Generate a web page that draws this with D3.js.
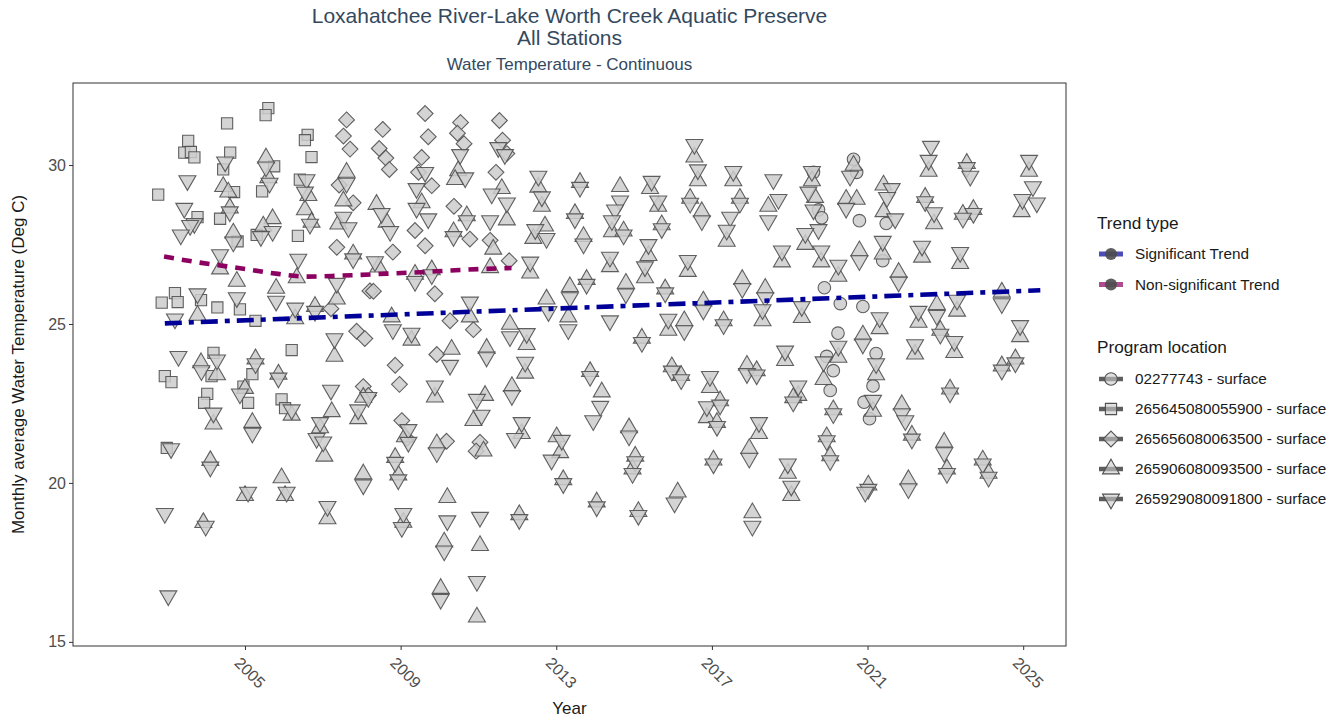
<!DOCTYPE html>
<html>
<head>
<meta charset="utf-8">
<script src="https://cdn.jsdelivr.net/npm/d3@7"></script>
<style>
  html, body { margin: 0; padding: 0; background: #ffffff; }
  svg { display: block; font-family: "Liberation Sans", Arial, sans-serif; }
</style>
</head>
<body>
<svg id="chart" width="1340" height="721"></svg>
<script>
// ---------------- DATA ----------------
const titleLines = ["Loxahatchee River-Lake Worth Creek Aquatic Preserve", "All Stations"];
const subtitle = "Water Temperature - Continuous";
const xTitle = "Year";
const yTitle = "Monthly average Water Temperature (Deg C)";
const xTicks = [2005, 2009, 2013, 2017, 2021, 2025];
const yTicks = [15, 20, 25, 30];
const xDomain = [2000.58, 2026.1];
const yDomain = [14.87, 32.58];

const trendTypes = ["Significant Trend", "Non-significant Trend"];
const stationNames = ["02277743 - surface", "265645080055900 - surface", "265656080063500 - surface",
                      "265906080093500 - surface", "265929080091800 - surface"];

// trend lines [year, value]
const sigTrend = [[2002.94, 25.02], [2025.44, 26.06]];
const nonSigTrend = [[2002.92, 27.12], [2003.84, 26.93], [2004.79, 26.77], [2005.64, 26.61], [2006.59, 26.49],
  [2007.44, 26.52], [2008.8, 26.59], [2009.68, 26.64], [2010.53, 26.70], [2011.85, 26.76]];

// station 02277743 (circles)
const st02277743 = [[2019.61,29.77],[2019.74,28.59],[2019.82,28.34],[2019.89,26.14],[2020.3,25.64],[2020.24,24.71],
  [2019.95,23.98],[2020.12,23.53],[2020.04,22.91],[2020.64,30.18],[2020.72,29.77],[2020.79,28.25],[2020.88,25.55],
  [2021.22,24.07],[2021.14,23.05],[2021.05,22.02],[2021.48,28.16],[2021.39,26.99],[2020.91,22.54]];

// station 265645080055900 (squares)
const st265645080055900 = [[2002.77,29.07],[2003.2,25.97],[2002.86,25.67],[2003.27,25.69],[2003.54,30.76],[2003.44,30.39],
  [2003.61,30.41],[2003.7,30.24],[2003.78,28.36],[2002.94,23.36],[2003.11,23.17],[2002.99,21.1],[2004.54,31.31],
  [2004.62,30.39],[2004.44,29.86],[2004.72,29.15],[2004.36,28.31],[2004.81,27.6],[2003.87,25.75],[2004.29,25.52],
  [2004.87,25.46],[2005.27,25.1],[2004.19,24.09],[2004.14,23.36],[2004.03,22.8],[2003.95,22.52],[2005.19,23.42],
  [2004.96,23.03],[2005.08,22.52],[2005.6,31.79],[2005.53,31.57],[2005.75,29.96],[2005.44,29.17],[2005.3,27.8],
  [2006.36,27.77],[2006.61,30.95],[2006.54,30.78],[2006.71,30.25],[2006.41,29.54],[2006.2,24.18],[2005.94,22.63],
  [2006.03,22.35]];

// station 265656080063500 (diamonds)
const st265656080063500 = [[2007.61,31.42],[2007.53,30.91],[2007.7,30.5],[2007.42,29.37],[2007.78,28.81],[2007.36,27.41],
  [2008.21,26.04],[2007.21,25.48],[2007.87,24.77],[2008.08,24.54],[2008.04,23.03],[2008.17,22.75],
  [2008.54,31.12],[2008.45,30.52],[2008.62,30.22],[2008.71,29.86],[2009.63,31.62],[2009.71,30.89],[2009.54,30.24],
  [2009.46,29.77],[2009.8,29.35],[2010.54,31.34],[2010.46,31.0],[2010.63,30.67],[2011.54,31.4],[2011.62,30.78],
  [2011.73,30.36],[2011.45,29.77],[2010.37,28.7],[2010.78,27.67],[2009.37,27.94],[2009.63,27.46],[2008.8,27.26],
  [2011.3,27.63],[2011.79,26.99],[2008.3,26.03],[2009.88,25.95],[2010.27,25.1],[2010.87,24.82],[2009.93,24.04],
  [2008.86,23.7],[2008.97,23.1],[2009.03,21.96],[2009.16,21.4],[2010.18,21.31],[2011.04,21.28],[2010.94,21.0]];

// station 265906080093500 (up triangles)
const st265906080093500 = [[2003.78,25.27],[2003.87,23.78],[2004.28,23.4],[2004.19,21.85],[2004.11,20.7],[2003.93,18.75],
  [2004.44,29.32],[2004.57,29.15],[2004.61,28.65],[2004.7,27.86],[2004.36,26.73],[2004.79,26.34],
  [2005.27,23.9],[2005.0,22.97],[2005.19,21.9],[2005.0,19.6],
  [2005.54,30.22],[2005.6,29.6],[2005.71,28.31],[2005.47,28.08],[2005.8,26.12],[2005.86,23.42],[2005.94,20.16],[2006.03,19.6],[2006.2,22.13],
  [2006.63,29.04],[2006.54,28.59],[2006.71,28.2],[2006.33,26.45],[2006.29,25.16],[2006.8,25.55],
  [2007.3,23.98],[2007.23,22.24],[2006.93,21.73],[2007.04,20.84],[2007.12,18.87],
  [2007.61,29.77],[2007.53,28.87],[2007.4,28.14],[2007.78,27.2],[2007.36,25.78],
  [2008.04,22.69],[2007.91,22.02],[2008.04,20.28],
  [2008.38,28.76],[2008.64,28.2],[2008.43,26.79],[2009.54,28.81],[2009.37,26.56],[2009.8,26.7],
  [2010.48,29.82],[2010.4,29.54],[2010.7,28.4],[2010.36,27.9],
  [2011.6,29.26],[2011.73,28.27],[2011.38,27.35],[2011.3,26.77],
  [2010.78,25.22],[2008.77,25.22],[2009.28,24.49],[2010.31,24.2],[2011.21,24.23],[2011.81,24.99],
  [2012.24,24.35],[2012.33,26.6],[2012.54,29.3],[2012.63,28.7],[2012.71,28.08],[2012.41,27.69],
  [2012.2,23.45],[2012.75,25.78],[2013.35,26.17],[2013.31,25.22],[2013.61,29.45],[2013.48,28.47],[2013.7,27.75],[2013.78,26.4],
  [2009.88,22.7],[2011.17,22.75],[2010.87,21.96],[2009.11,21.45],[2009.93,21.23],[2011.13,21.0],
  [2011.86,23.03],[2012.11,21.55],[2013.01,21.45],[2013.1,20.95],[2013.18,20.1],
  [2013.87,23.5],[2014.17,22.86],[2014.04,19.4],
  [2008.86,20.8],[2008.94,20.25],[2009.07,18.76],
  [2010.2,19.54],[2010.12,18.14],[2010.03,16.68],[2011.04,18.03],[2010.96,15.78],[2012.05,19.0],
  [2014.64,29.32],[2014.43,27.9],[2014.73,27.92],[2014.38,26.8],[2014.79,26.28],
  [2015.41,29.26],[2015.62,28.7],[2015.71,28.12],[2015.37,27.15],[2015.28,26.45],[2015.8,26.1],[2015.88,24.8],[2016.29,25.1],[2015.2,24.55],
  [2016.55,30.25],[2016.64,29.5],[2016.44,28.95],[2016.74,28.53],[2016.38,26.65],[2016.78,25.72],[2017.3,25.1],
  [2017.55,29.5],[2017.72,28.95],[2017.38,27.6],[2017.78,26.4],[2018.37,26.12],[2018.3,25.1],
  [2018.45,28.7],[2018.8,26.95],[2019.31,25.2],
  [2019.57,29.5],[2019.65,28.98],[2019.4,27.5],[2019.81,26.95],[2020.25,26.5],
  [2020.25,23.95],[2019.87,23.25],[2018.88,23.85],[2020.12,22.3],[2019.95,21.45],[2020.04,20.85],
  [2015.97,23.65],[2016.21,23.38],[2016.95,23.0],[2017.9,23.7],[2018.15,23.53],[2019.22,22.75],[2019.09,22.68],
  [2016.87,22.05],[2017.21,22.58],[2017.13,21.9],[2018.21,21.55],[2014.87,21.73],[2015.03,20.84],[2014.96,20.44],
  [2017.04,20.72],[2017.96,21.08],[2018.95,20.3],[2019.04,19.6],[2016.12,19.71],[2015.11,19.1],[2018.04,19.06],
  [2020.64,29.99],[2020.45,28.92],[2020.72,28.92],[2020.79,27.3],[2020.88,24.65],[2021.31,24.85],[2021.22,23.4],[2021.14,22.25],
  [2021.41,29.37],[2021.41,28.53],[2021.39,27.2],[2021.8,26.62],
  [2022.57,29.8],[2022.48,28.98],[2022.71,28.15],[2022.4,27.1],[2022.31,25.05],[2022.22,24.05],
  [2022.78,25.61],[2022.87,24.8],[2023.23,24.1],[2023.3,25.4],[2024.45,26.0],[2023.55,30.05],
  [2023.72,28.6],[2023.45,28.45],[2023.38,26.9],[2025.15,29.8],[2024.96,28.53],
  [2024.92,24.6],[2024.8,23.9],[2024.45,23.68],[2023.12,22.95],[2021.88,22.46],[2022.14,21.5],
  [2022.97,21.28],[2023.04,20.44],[2023.96,20.72],[2024.11,20.3],[2021.02,19.93],[2022.05,20.1]];

// station 265929080091800 (down triangles)
const st265929080091800 = [[2003.2,25.16],[2003.29,23.98],[2003.1,21.08],[2002.94,19.04],[2003.03,16.45],
  [2003.52,29.51],[2003.44,28.64],[2003.7,28.16],[2003.59,28.1],[2003.35,27.8],
  [2003.78,25.95],[2003.88,23.53],[2004.28,23.87],[2004.19,22.2],[2004.11,20.5],[2003.99,18.64],
  [2004.49,30.1],[2004.61,28.53],[2004.7,27.58],[2004.36,27.18],[2004.79,25.83],
  [2005.27,23.75],[2004.87,22.8],[2005.19,21.57],[2005.08,19.71],
  [2005.54,29.94],[2005.63,29.43],[2005.71,27.91],[2005.41,27.75],[2005.8,25.72],[2005.86,23.3],[2006.07,19.71],[2006.2,22.3],
  [2006.58,29.54],[2006.54,29.15],[2006.67,28.14],[2006.37,27.04],[2006.29,25.5],[2006.8,25.4],
  [2007.3,24.54],[2007.21,22.92],[2006.93,21.9],[2006.84,21.4],[2007.01,21.29],[2007.12,19.26],
  [2007.61,29.43],[2007.53,28.36],[2007.66,28.03],[2007.78,27.05],[2007.36,26.28],
  [2008.17,22.69],[2007.91,22.3],[2008.04,19.94],
  [2008.51,28.48],[2008.73,27.91],[2008.34,26.96],
  [2009.41,29.26],[2009.71,28.31],[2009.41,28.64],[2009.63,29.77],[2009.37,26.34],[2009.8,26.55],
  [2010.53,30.33],[2010.66,29.6],[2010.7,28.25],[2010.36,27.75],
  [2011.51,30.55],[2011.68,30.33],[2011.34,29.09],[2011.73,28.81],[2011.3,28.25],
  [2010.78,25.69],[2008.8,24.82],[2009.28,24.71],[2010.27,23.7],[2011.21,23.96],[2011.81,24.6],
  [2012.24,24.7],[2012.33,26.95],[2012.54,29.65],[2012.63,29.0],[2012.46,27.97],[2012.75,27.69],
  [2012.2,23.8],[2012.8,25.39],[2013.35,25.83],[2013.31,24.82],[2013.61,29.3],[2013.48,28.31],[2013.7,27.52],[2013.78,26.25],
  [2009.88,23.05],[2010.96,22.63],[2011.08,22.13],[2009.2,21.68],[2009.2,21.28],[2009.93,20.95],
  [2011.86,22.75],[2012.11,21.9],[2011.94,21.4],[2013.14,21.34],[2012.88,20.72],[2013.18,19.98],
  [2013.87,23.35],[2014.13,22.41],[2013.95,21.96],[2014.04,19.25],
  [2008.86,20.65],[2008.94,20.1],[2009.07,19.04],[2009.03,18.6],
  [2010.2,18.81],[2010.12,17.86],[2010.03,16.34],[2011.04,18.92],[2010.96,16.9],[2012.05,18.85],
  [2014.64,28.87],[2014.51,28.59],[2014.43,28.25],[2014.73,27.8],[2014.38,27.1],[2014.79,25.95],[2014.38,25.1],
  [2015.45,29.49],[2015.62,28.87],[2015.71,28.0],[2015.37,27.5],[2015.28,26.8],[2015.8,25.98],[2015.88,25.15],[2016.29,24.79],[2015.2,24.42],
  [2016.55,30.65],[2016.64,29.85],[2016.44,28.8],[2016.74,28.25],[2016.38,27.0],[2016.78,25.44],[2017.3,24.98],
  [2017.55,29.8],[2017.72,28.8],[2017.47,28.36],[2017.38,27.95],[2017.78,26.12],[2018.37,25.83],[2018.3,25.45],
  [2018.58,29.54],[2018.71,28.92],[2018.45,28.25],[2018.8,27.3],[2019.31,25.55],
  [2019.57,29.8],[2019.48,29.15],[2019.61,28.59],[2019.74,27.97],[2019.4,27.85],[2019.81,27.3],[2020.25,26.85],
  [2020.25,24.3],[2019.87,23.81],[2018.88,24.15],[2020.12,22.18],[2019.95,21.33],[2020.04,20.7],
  [2015.97,23.52],[2016.21,23.25],[2016.95,23.35],[2017.9,23.44],[2018.15,23.4],[2019.22,23.05],[2019.09,22.55],
  [2016.87,22.4],[2017.21,22.45],[2017.13,21.78],[2018.21,21.9],[2014.87,21.48],[2015.03,20.67],[2014.96,20.3],
  [2017.04,20.6],[2017.96,20.78],[2018.95,20.6],[2019.04,19.9],[2016.04,19.37],[2015.11,18.98],[2018.04,18.64],
  [2020.55,29.65],[2020.45,28.64],[2020.79,26.99],[2020.88,24.37],[2021.31,25.2],[2021.22,23.75],[2021.14,22.6],
  [2021.62,29.26],[2021.5,28.98],[2021.71,28.31],[2021.39,27.6],[2021.8,26.32],
  [2022.63,30.59],[2022.57,30.15],[2022.48,28.85],[2022.71,28.5],[2022.4,27.45],[2022.31,25.4],[2022.22,24.35],
  [2022.78,25.27],[2022.87,24.68],[2023.23,24.45],[2023.3,25.75],[2024.45,25.64],[2023.55,29.92],[2023.64,29.65],
  [2023.72,28.48],[2023.45,28.33],[2023.38,27.25],[2025.15,30.15],[2025.25,29.32],[2024.98,28.92],[2025.35,28.81],
  [2024.92,24.95],[2024.8,23.78],[2024.45,23.55],[2023.12,22.83],[2021.88,22.18],[2021.97,21.96],[2022.14,21.38],
  [2022.97,20.95],[2023.04,20.3],[2023.96,20.6],[2024.11,20.18],[2021.02,19.8],[2020.94,19.71],[2022.05,19.82]];

const stationData = [st02277743, st265645080055900, st265656080063500, st265906080093500, st265929080091800];

// ---------------- RENDER ----------------
const svg = d3.select("#chart");
const P = { left: 73, right: 1066, top: 83, bottom: 646 };
const x = d3.scaleLinear().domain(xDomain).range([P.left, P.right]);
const y = d3.scaleLinear().domain(yDomain).range([P.bottom, P.top]);

const titleColor = "#34495e";
const axisColor = "#333333";
const tickTextColor = "#4d4d4d";

// titles
svg.append("text").attr("x", (P.left + P.right) / 2).attr("y", 22.5).attr("text-anchor", "middle")
  .attr("font-size", 21).attr("fill", titleColor).text(titleLines[0]);
svg.append("text").attr("x", (P.left + P.right) / 2).attr("y", 44.5).attr("text-anchor", "middle")
  .attr("font-size", 21).attr("fill", titleColor).text(titleLines[1]);
svg.append("text").attr("x", (P.left + P.right) / 2).attr("y", 70).attr("text-anchor", "middle")
  .attr("font-size", 17).attr("fill", titleColor).text(subtitle);

// shapes
function shapePath(kind) {
  const R = 9.8, rc = 6.3, sq = 5.6, dm = 7.9;
  switch (kind) {
    case 0: return `M${-rc},0A${rc},${rc} 0 1,0 ${rc},0A${rc},${rc} 0 1,0 ${-rc},0Z`;
    case 1: return `M${-sq},${-sq}H${sq}V${sq}H${-sq}Z`;
    case 2: return `M0,${-dm}L${dm},0L0,${dm}L${-dm},0Z`;
    case 3: return `M0,${-R}L${0.866 * R},${R / 2}L${-0.866 * R},${R / 2}Z`;
    case 4: return `M0,${R}L${0.866 * R},${-R / 2}L${-0.866 * R},${-R / 2}Z`;
  }
}

svg.append("clipPath").attr("id", "pclip").append("rect")
  .attr("x", P.left).attr("y", P.top).attr("width", P.right - P.left).attr("height", P.bottom - P.top);

const gPts = svg.append("g").attr("clip-path", "url(#pclip)");
stationData.forEach((arr, si) => {
  gPts.selectAll(null).data(arr).enter().append("path")
    .attr("d", shapePath(si))
    .attr("transform", d => `translate(${x(d[0])},${y(d[1])})`)
    .attr("fill", "#cccccc").attr("fill-opacity", 0.85)
    .attr("stroke", "#505050").attr("stroke-opacity", 0.9).attr("stroke-width", 1.1);
});

// trend lines
const line = d3.line().x(d => x(d[0])).y(d => y(d[1])).curve(d3.curveMonotoneX);
gPts.append("path").datum(nonSigTrend).attr("d", line).attr("fill", "none")
  .attr("stroke", "#8b0060").attr("stroke-width", 4.6).attr("stroke-dasharray", "10,8");
gPts.append("path").datum(sigTrend).attr("d", line).attr("fill", "none")
  .attr("stroke", "#000099").attr("stroke-width", 4.6).attr("stroke-dasharray", "17,7,5,7");

// panel border
svg.append("rect").attr("x", P.left).attr("y", P.top).attr("width", P.right - P.left).attr("height", P.bottom - P.top)
  .attr("fill", "none").attr("stroke", axisColor).attr("stroke-width", 1);

// y axis
const yAxis = d3.axisLeft(y).tickValues(yTicks).tickSize(4).tickPadding(3).tickFormat(d3.format("d"));
const gy = svg.append("g").attr("transform", `translate(${P.left},0)`).call(yAxis);
gy.select(".domain").remove();
gy.selectAll(".tick line").attr("stroke", axisColor);
gy.selectAll(".tick text").attr("font-size", 16).attr("fill", tickTextColor)
  .attr("font-family", "Liberation Sans, Arial, sans-serif");

// x axis
const xAxis = d3.axisBottom(x).tickValues(xTicks).tickSize(4).tickFormat(d3.format("d"));
const gx = svg.append("g").attr("transform", `translate(0,${P.bottom})`).call(xAxis);
gx.select(".domain").remove();
gx.selectAll(".tick line").attr("stroke", axisColor);
gx.selectAll(".tick text").attr("font-size", 16).attr("fill", tickTextColor)
  .attr("font-family", "Liberation Sans, Arial, sans-serif")
  .attr("text-anchor", "start").attr("dy", null).attr("y", null)
  .attr("transform", "translate(-12,18) rotate(45)");

// axis titles
svg.append("text").attr("x", (P.left + P.right) / 2).attr("y", 714).attr("text-anchor", "middle")
  .attr("font-size", 17).attr("fill", "#1a1a1a").text(xTitle);
svg.append("text").attr("transform", `translate(24,${(P.top + P.bottom) / 2}) rotate(-90)`)
  .attr("text-anchor", "middle").attr("font-size", 17).attr("fill", "#1a1a1a").text(yTitle);

// legends
const LX = 1097, keyX0 = 1099, keyX1 = 1123, keyC = 1111, textX = 1135;
const lg = svg.append("g");
lg.append("text").attr("x", LX).attr("y", 229).attr("font-size", 17.2).attr("fill", "#1a1a1a").text("Trend type");
const trendColors = ["#000099", "#8b0060"];
trendTypes.forEach((t, i) => {
  const cy = 254 + i * 30.5;
  lg.append("line").attr("x1", keyX0).attr("x2", keyX1).attr("y1", cy).attr("y2", cy)
    .attr("stroke", trendColors[i]).attr("stroke-opacity", 0.7).attr("stroke-width", 5);
  lg.append("circle").attr("cx", keyC).attr("cy", cy).attr("r", 6).attr("fill", "#4d4d4d").attr("fill-opacity", 0.9);
  lg.append("text").attr("x", textX).attr("y", cy + 5.3).attr("font-size", 15.3).attr("fill", "#1a1a1a").text(t);
});
lg.append("text").attr("x", LX).attr("y", 353).attr("font-size", 17.2).attr("fill", "#1a1a1a").text("Program location");
stationNames.forEach((s, i) => {
  const cy = 379 + i * 30;
  lg.append("line").attr("x1", keyX0).attr("x2", keyX1).attr("y1", cy).attr("y2", cy)
    .attr("stroke", "#4d4d4d").attr("stroke-opacity", 0.9).attr("stroke-width", 4.5);
  lg.append("path").attr("d", shapePath(i)).attr("transform", `translate(${keyC},${cy})`)
    .attr("fill", "#cccccc").attr("fill-opacity", 0.6)
    .attr("stroke", "#505050").attr("stroke-width", 1.1);
  lg.append("text").attr("x", textX).attr("y", cy + 5.3).attr("font-size", 15.3).attr("fill", "#1a1a1a").text(s);
});
</script>
</body>
</html>
